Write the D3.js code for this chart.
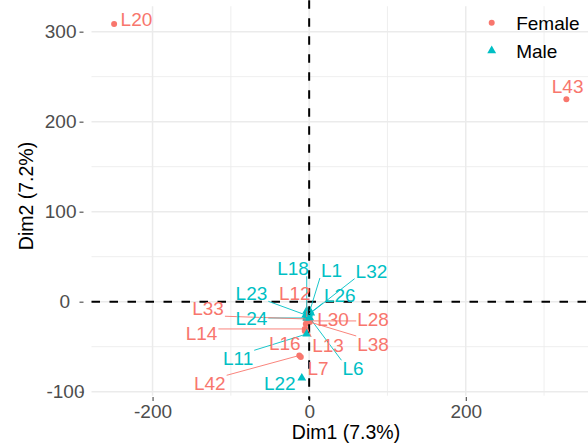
<!DOCTYPE html>
<html lang="en">
<head>
<meta charset="UTF-8">
<title>PCA individuals</title>
<script src="https://d3js.org/d3.v7.min.js"></script>
<style>
  body { margin: 0; background: #fff; }
  svg text { font-family: "Liberation Sans", Arial, Helvetica, sans-serif; }
  .tick text { fill: #4d4d4d; font-size: 19px; }
  .tick line { stroke: #333; }
</style>
</head>
<body>
<svg id="chart"></svg>
<script>
// individuals (point coordinates on Dim1 / Dim2)
const names = ["L20","L43","L1","L6","L7","L11","L12","L13","L14","L16","L18","L22","L23","L24","L26","L28","L30","L32","L33","L38","L42"];
const sex   = ["Female","Female","Male","Male","Female","Male","Female","Female","Female","Female","Male","Male","Male","Male","Male","Female","Female","Male","Female","Female","Female"];
const dim1  = [-249.1, 328.5, 0.8, 0.8, -10.7, -3.1, -3.1, -4.3, -5.6, -5.6, -3.1, -9.4, -4.3, -3.1, -0.5, 0.8, -0.5, 2.0, -4.3, 0.8, -12.6];
const dim2  = [308.6, 224.9, -10.3, -18.1, -61.4, -35.9, -17.0, -24.8, -30.3, -32.6, -10.3, -84.8, -14.8, -18.1, -13.7, -21.4, -20.3, -12.6, -19.2, -22.6, -59.8];
// repelled label positions (same units)
const labDim1 = [-220.6, 330.1, 28.5, 56.0, 11.4, -90.8, -18.4, 24.1, -137.5, -31.2, -20.6, -37.5, -73.7, -73.7, 39.1, 81.6, 30.5, 79.5, -129.1, 81.6, -126.9];
const labDim2 = [313.8, 239.7, 35.2, -74.0, -74.0, -62.9, 9.3, -48.1, -35.1, -45.6, 37.1, -90.7, 9.3, -18.4, 7.4, -19.6, -19.6, 34.4, -7.3, -47.0, -90.7];

const groups = ["Female", "Male"];
const groupColors = ["#F8766D", "#00BFC4"];
const xTicks = [-200, 0, 200];
const yTicks = [-100, 0, 100, 200, 300];
const xMinor = [-100, 100, 300];
const yMinor = [-50, 50, 150, 250];

const width = 588, height = 448;
const panel = { left: 91.5, right: 589, top: 6.2, bottom: 395.7 };

const svg = d3.select("#chart").attr("width", width).attr("height", height);

// ggplot style 5% expansion
function expand(ext) {
  const pad = (ext[1] - ext[0]) * 0.05;
  return [ext[0] - pad, ext[1] + pad];
}
const x = d3.scaleLinear().domain(expand(d3.extent(dim1))).range([panel.left, panel.right]);
const y = d3.scaleLinear().domain(expand(d3.extent(dim2))).range([panel.bottom, panel.top]);
const color = d3.scaleOrdinal().domain(groups).range(groupColors);

const data = names.map((n, i) => ({
  name: n, sex: sex[i], x: dim1[i], y: dim2[i], lx: labDim1[i], ly: labDim2[i]
}));

// grid
const grid = svg.append("g");
grid.selectAll(".vmin").data(xMinor).enter().append("line")
  .attr("x1", d => x(d)).attr("x2", d => x(d))
  .attr("y1", panel.top).attr("y2", panel.bottom)
  .attr("stroke", "#ebebeb").attr("stroke-width", 0.8);
grid.selectAll(".hmin").data(yMinor).enter().append("line")
  .attr("x1", panel.left).attr("x2", panel.right)
  .attr("y1", d => y(d)).attr("y2", d => y(d))
  .attr("stroke", "#ebebeb").attr("stroke-width", 0.8);
grid.selectAll(".vmaj").data(xTicks).enter().append("line")
  .attr("x1", d => x(d)).attr("x2", d => x(d))
  .attr("y1", panel.top).attr("y2", panel.bottom)
  .attr("stroke", "#ebebeb").attr("stroke-width", 1.5);
grid.selectAll(".hmaj").data(yTicks).enter().append("line")
  .attr("x1", panel.left).attr("x2", panel.right)
  .attr("y1", d => y(d)).attr("y2", d => y(d))
  .attr("stroke", "#ebebeb").attr("stroke-width", 1.5);

// axes
const yAxis = svg.append("g")
  .attr("transform", "translate(83.5,0)")
  .call(d3.axisLeft(y).tickValues(yTicks).tickSize(4).tickPadding(3).tickFormat(d => String(d)));
yAxis.select(".domain").remove();
// odd label offsets seen in the original
yAxis.selectAll(".tick text").attr("dx", d => d === 0 ? -6.5 : d === -100 ? 8 : 0);

const xAxis = svg.append("g")
  .attr("transform", `translate(0,${panel.bottom + 1.3})`)
  .call(d3.axisBottom(x).tickValues(xTicks).tickSize(4).tickPadding(3.5).tickFormat(d => String(d)));
xAxis.select(".domain").remove();

// points
const pts = svg.append("g");
pts.selectAll("circle").data(data.filter(d => d.sex === "Female")).enter().append("circle")
  .attr("cx", d => x(d.x)).attr("cy", d => y(d.y)).attr("r", 3)
  .attr("fill", d => color(d.sex));
const tri = d3.symbol().type(d3.symbolTriangle).size(34);
pts.selectAll("path").data(data.filter(d => d.sex === "Male")).enter().append("path")
  .attr("d", tri)
  .attr("transform", d => `translate(${x(d.x)},${y(d.y)})`)
  .attr("fill", d => color(d.sex));

// zero lines
svg.append("line")
  .attr("x1", panel.left).attr("x2", panel.right)
  .attr("y1", y(0)).attr("y2", y(0))
  .attr("stroke", "#000").attr("stroke-width", 2).attr("stroke-dasharray", "8.5,9.5");
svg.append("line")
  .attr("x1", x(0)).attr("x2", x(0))
  .attr("y1", panel.top - 6).attr("y2", panel.bottom + 4)
  .attr("stroke", "#000").attr("stroke-width", 2).attr("stroke-dasharray", "8.5,9.5");

// labels + repel segments
const segG = svg.append("g");
const labG = svg.append("g");
labG.selectAll("text").data(data).enter().append("text")
  .attr("x", d => x(d.lx)).attr("y", d => y(d.ly))
  .attr("dy", "0.36em")
  .attr("text-anchor", "middle")
  .attr("font-size", 19)
  .attr("fill", d => color(d.sex))
  .text(d => d.name)
  .each(function (d) {
    const w = this.getComputedTextLength();
    const cx = x(d.lx), cy = y(d.ly);
    const bx0 = cx - w / 2 - 1, bx1 = cx + w / 2 + 1;
    const by0 = cy - 8, by1 = cy + 8;
    const px = x(d.x), py = y(d.y);
    const ex = Math.max(bx0, Math.min(px, bx1));
    const ey = Math.max(by0, Math.min(py, by1));
    if (Math.hypot(ex - px, ey - py) > 10) {
      segG.append("line")
        .attr("x1", px).attr("y1", py).attr("x2", ex).attr("y2", ey)
        .attr("stroke", color(d.sex)).attr("stroke-width", 0.9);
    }
  });

// axis titles
svg.append("text")
  .attr("x", 346).attr("y", 439)
  .attr("text-anchor", "middle").attr("font-size", 19.5).attr("fill", "#000")
  .text("Dim1 (7.3%)");
svg.append("text")
  .attr("transform", "translate(32.5,196) rotate(-90)")
  .attr("text-anchor", "middle").attr("font-size", 19.5).attr("fill", "#000")
  .text("Dim2 (7.2%)");

// legend
const legend = svg.append("g").attr("transform", "translate(491.7,22.7)");
groups.forEach((g, i) => {
  const row = legend.append("g").attr("transform", `translate(0,${i * 28})`);
  if (g === "Female") {
    row.append("circle").attr("r", 3).attr("fill", color(g));
  } else {
    row.append("path").attr("d", tri).attr("fill", color(g));
  }
  row.append("text").attr("x", 24.5).attr("y", 0).attr("dy", "0.36em")
    .attr("font-size", 19).attr("fill", "#000").text(g);
});
</script>
</body>
</html>
